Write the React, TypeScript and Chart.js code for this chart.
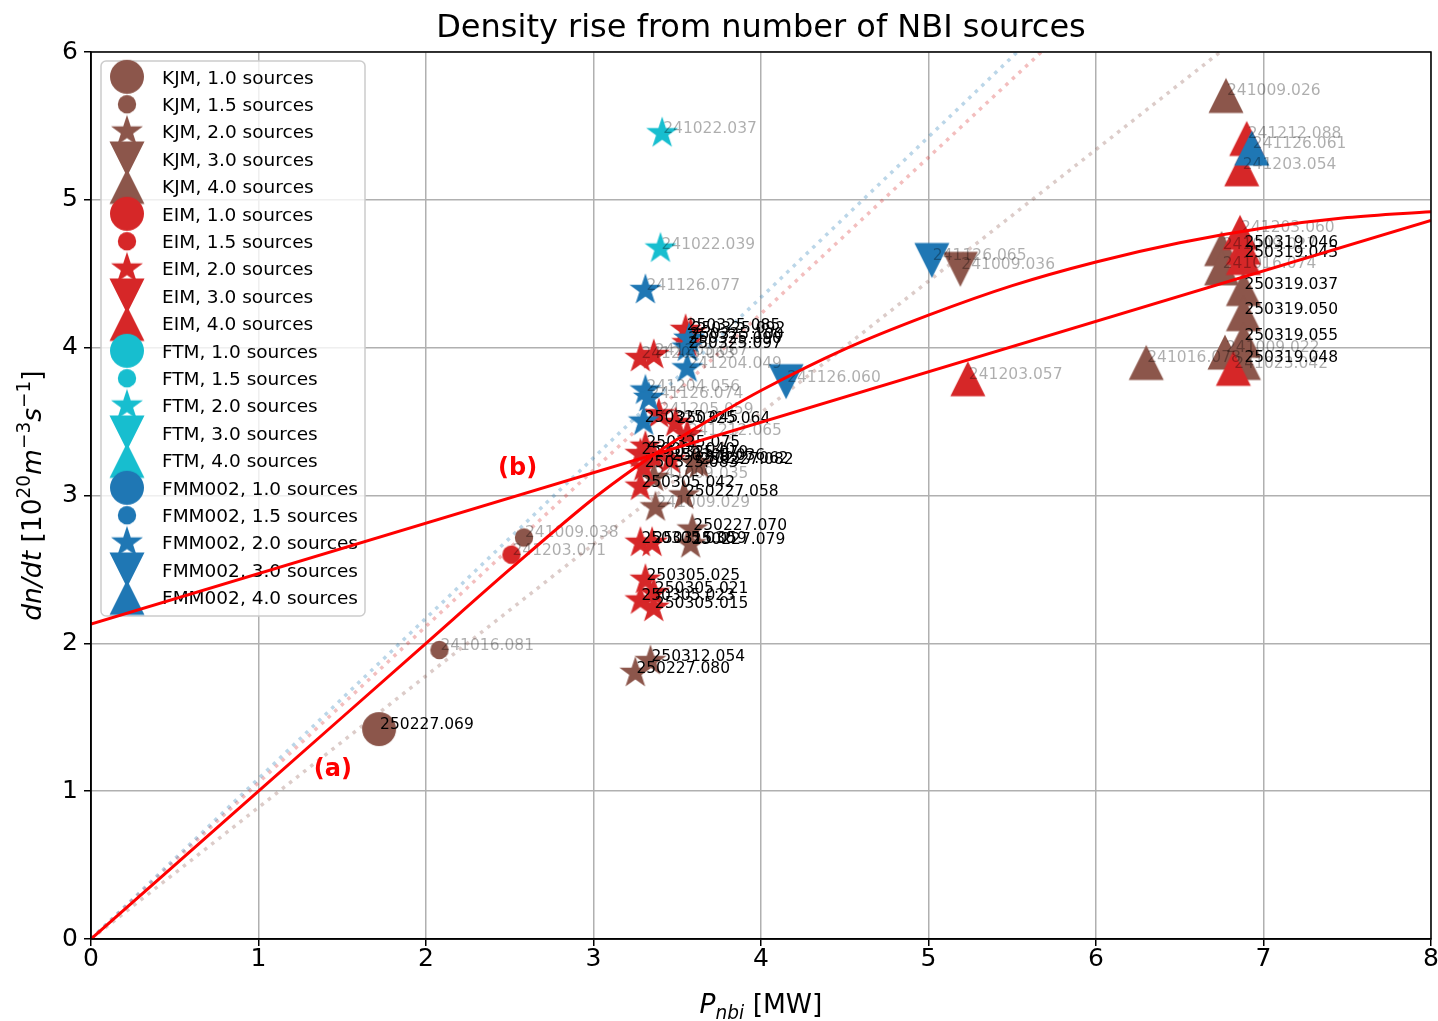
import { useEffect, useRef } from "react";
import { Chart, registerables } from "chart.js";

Chart.register(...registerables);

type Shot = [number, number, string];

// ---------- axis ranges ----------
const X_RANGE = [0, 8];
const Y_RANGE = [0, 6];

// ---------- KJM ----------
const KJM_1_0: Shot[] = [[1.72, 1.42, "250227.069"]];
const KJM_1_5: Shot[] = [
  [2.08, 1.955, "241016.081"],
  [2.585, 2.716, "241009.038"],
];
const KJM_2_0: Shot[] = [
  [3.25, 1.8, "250227.080"],
  [3.34, 1.88, "250312.054"],
  [3.58, 2.67, "250227.079"],
  [3.59, 2.77, "250227.070"],
  [3.37, 2.92, "241009.029"],
  [3.54, 3.0, "250227.058"],
  [3.36, 3.12, "241009.035"],
  [3.6, 3.22, "250227.062"],
  [3.63, 3.21, "250227.082"],
];
const KJM_3_0: Shot[] = [[5.19, 4.53, "241009.036"]];
const KJM_4_0: Shot[] = [
  [6.776, 5.706, "241009.026"],
  [6.3, 3.9, "241016.078"],
  [6.75, 4.67, "241009.027"],
  [6.75, 4.54, "241016.074"],
  [6.88, 4.4, "250319.037"],
  [6.88, 4.23, "250319.050"],
  [6.88, 4.05, "250319.055"],
  [6.77, 3.97, "241009.022"],
  [6.88, 3.9, "250319.048"],
];

// ---------- EIM ----------
const EIM_1_0: Shot[] = [];
const EIM_1_5: Shot[] = [[2.51, 2.6, "241203.071"]];
const EIM_2_0: Shot[] = [
  [3.28, 3.93, "241205.063"],
  [3.36, 3.95, "241205.067"],
  [3.55, 4.12, "250325.085"],
  [3.58, 4.1, "250325.092"],
  [3.56, 4.03, "250325.090"],
  [3.39, 3.55, "241205.059"],
  [3.49, 3.49, "250325.064"],
  [3.56, 3.41, "241212.065"],
  [3.31, 3.33, "250325.075"],
  [3.28, 3.28, "250305.040"],
  [3.36, 3.26, "250325.079"],
  [3.46, 3.24, "250305.036"],
  [3.3, 3.19, "250325.083"],
  [3.28, 3.06, "250305.042"],
  [3.28, 2.68, "250305.030"],
  [3.35, 2.68, "250315.059"],
  [3.31, 2.43, "250305.025"],
  [3.36, 2.34, "250305.021"],
  [3.28, 2.29, "250305.023"],
  [3.36, 2.24, "250305.015"],
];
const EIM_3_0: Shot[] = [];
const EIM_4_0: Shot[] = [
  [5.235, 3.79, "241203.057"],
  [6.9, 5.415, "241212.088"],
  [6.87, 5.21, "241203.054"],
  [6.86, 4.78, "241203.060"],
  [6.88, 4.68, "250319.046"],
  [6.88, 4.61, "250319.043"],
  [6.82, 3.86, "241023.042"],
];

// ---------- FTM ----------
const FTM_1_0: Shot[] = [];
const FTM_1_5: Shot[] = [];
const FTM_2_0: Shot[] = [
  [3.41, 5.45, "241022.037"],
  [3.4, 4.67, "241022.039"],
];
const FTM_3_0: Shot[] = [];
const FTM_4_0: Shot[] = [];

// ---------- FMM002 ----------
const FMM_1_0: Shot[] = [];
const FMM_1_5: Shot[] = [];
const FMM_2_0: Shot[] = [
  [3.31, 4.39, "241126.077"],
  [3.57, 4.06, "250325.100"],
  [3.56, 4.0, "250325.097"],
  [3.56, 3.86, "241204.049"],
  [3.31, 3.71, "241204.056"],
  [3.33, 3.66, "241126.074"],
  [3.3, 3.5, "250325.045"],
];
const FMM_3_0: Shot[] = [
  [5.02, 4.59, "241126.065"],
  [4.15, 3.77, "241126.060"],
];
const FMM_4_0: Shot[] = [[6.93, 5.35, "241126.061"]];

// ---------- categories ----------
const COMPANIES = ["KJM", "EIM", "FTM", "FMM002"];
const COMPANY_COLORS = ["#8c564b", "#d62728", "#17becf", "#1f77b4"];
const SOURCES = [1.0, 1.5, 2.0, 3.0, 4.0];
const SOURCE_SHAPES = ["bigCircle", "smallCircle", "star", "triDown", "triUp"];
const GROUPS: Shot[][][] = [
  [KJM_1_0, KJM_1_5, KJM_2_0, KJM_3_0, KJM_4_0],
  [EIM_1_0, EIM_1_5, EIM_2_0, EIM_3_0, EIM_4_0],
  [FTM_1_0, FTM_1_5, FTM_2_0, FTM_3_0, FTM_4_0],
  [FMM_1_0, FMM_1_5, FMM_2_0, FMM_3_0, FMM_4_0],
];

// ---------- fitted curves ----------
const FIT_A_X = [0, 1, 2, 2.5, 3, 3.25, 3.5, 3.75, 4, 4.5, 5, 5.5, 6, 6.5, 7, 7.5, 8];
const FIT_A_Y = [0, 1.0, 2.0, 2.5, 2.98, 3.19, 3.38, 3.55, 3.71, 3.99, 4.22, 4.42, 4.58, 4.71, 4.81, 4.88, 4.92];
const FIT_B_X = [0, 8];
const FIT_B_Y = [2.13, 4.86];
const DOT_X = [0, 8];
const DOT_FMM_Y = [0, 8.68];
const DOT_EIM_Y = [0, 8.46];
const DOT_KJM_Y = [0, 7.12];
const CURVE_TAGS: [number, number, string][] = [
  [1.33, 1.1, "(a)"],
  [2.43, 3.14, "(b)"],
];

const FONT = '"DejaVu Sans", "Liberation Sans", sans-serif';

function makeMarker(shape: string, color: string): HTMLCanvasElement {
  const size = shape === "smallCircle" ? 22 : 40;
  const c = document.createElement("canvas");
  c.width = size;
  c.height = size;
  const g = c.getContext("2d")!;
  const cx = size / 2;
  const cy = size / 2;
  g.fillStyle = color;
  g.beginPath();
  if (shape === "bigCircle") {
    g.arc(cx, cy, 17, 0, Math.PI * 2);
  } else if (shape === "smallCircle") {
    g.arc(cx, cy, 9.2, 0, Math.PI * 2);
  } else if (shape === "star") {
    const R = 16.8;
    for (let k = 0; k < 10; k++) {
      const r = k % 2 ? R * 0.381966 : R;
      const a = Math.PI / 2 + (k * Math.PI) / 5;
      const px = cx + r * Math.cos(a);
      const py = cy - r * Math.sin(a);
      if (k === 0) g.moveTo(px, py);
      else g.lineTo(px, py);
    }
  } else if (shape === "triUp") {
    const h = 17.5;
    g.moveTo(cx, cy - h);
    g.lineTo(cx - h, cy + h);
    g.lineTo(cx + h, cy + h);
  } else {
    const h = 17.5;
    g.moveTo(cx, cy + h);
    g.lineTo(cx - h, cy - h);
    g.lineTo(cx + h, cy - h);
  }
  g.closePath();
  g.fill();
  return c;
}

type Run = { t: string; it?: boolean; s?: number; dy?: number };

function drawRuns(ctx: CanvasRenderingContext2D, runs: Run[], cx: number, cy: number, rot: number, base: number) {
  ctx.save();
  ctx.translate(cx, cy);
  ctx.rotate(rot);
  const fontOf = (r: Run) => `${r.it ? "italic " : ""}${(r.s ?? 1) * base}px ${FONT}`;
  let total = 0;
  const widths = runs.map((r) => {
    ctx.font = fontOf(r);
    const w = ctx.measureText(r.t).width;
    total += w;
    return w;
  });
  let x = -total / 2;
  ctx.textAlign = "left";
  ctx.textBaseline = "alphabetic";
  ctx.fillStyle = "#000";
  runs.forEach((r, i) => {
    ctx.font = fontOf(r);
    ctx.fillText(r.t, x, (r.dy ?? 0) * base);
    x += widths[i];
  });
  ctx.restore();
}

function drawLegend(chart: any) {
  const ctx: CanvasRenderingContext2D = chart.ctx;
  const area = chart.chartArea;
  const x0 = area.left + 10;
  const y0 = area.top + 9;
  const w = 264;
  const h = 555;
  ctx.save();
  ctx.beginPath();
  (ctx as any).roundRect(x0, y0, w, h, 5);
  ctx.fillStyle = "rgba(255,255,255,0.8)";
  ctx.fill();
  ctx.strokeStyle = "#cccccc";
  ctx.lineWidth = 1.5;
  ctx.stroke();
  ctx.font = `18.5px ${FONT}`;
  ctx.fillStyle = "#000";
  ctx.textAlign = "left";
  ctx.textBaseline = "alphabetic";
  const markers = chart.data.datasets.filter((d: any) => d.isMarker);
  markers.forEach((d: any, i: number) => {
    const rowY = y0 + 15.8 + 27.4 * i;
    const img: HTMLCanvasElement = d.pointStyle;
    ctx.drawImage(img, x0 + 26 - img.width / 2, rowY - img.height / 2);
    ctx.fillText(d.label, x0 + 61, rowY + 6.8);
  });
  ctx.restore();
}

const overlayPlugin = {
  id: "overlay",
  afterDatasetDraw(chart: any, args: any) {
    const ds = chart.data.datasets[args.index];
    if (!ds.isLastMarker) return;
    const ctx: CanvasRenderingContext2D = chart.ctx;
    ctx.save();
    ctx.font = `15.5px ${FONT}`;
    ctx.textAlign = "left";
    ctx.textBaseline = "alphabetic";
    chart.data.datasets.forEach((d: any, di: number) => {
      if (!d.isMarker) return;
      const meta = chart.getDatasetMeta(di);
      d.shots.forEach((s: Shot, i: number) => {
        const el = meta.data[i];
        if (!el) return;
        ctx.fillStyle = s[2].startsWith("24") ? "rgba(0,0,0,0.32)" : "#000";
        ctx.fillText(s[2], el.x + 1, el.y);
      });
    });
    ctx.restore();
    drawLegend(chart);
  },
  afterDraw(chart: any) {
    const ctx: CanvasRenderingContext2D = chart.ctx;
    const a = chart.chartArea;
    const xs = chart.scales.x;
    const ys = chart.scales.y;
    ctx.save();
    // spines
    ctx.strokeStyle = "#000";
    ctx.lineWidth = 1.5;
    ctx.strokeRect(a.left, a.top, a.right - a.left, a.bottom - a.top);
    // curve tags
    ctx.font = `bold 24px ${FONT}`;
    ctx.fillStyle = "#ff0000";
    ctx.textAlign = "left";
    ctx.textBaseline = "alphabetic";
    CURVE_TAGS.forEach(([x, y, t]) => {
      ctx.fillText(t, xs.getPixelForValue(x), ys.getPixelForValue(y));
    });
    // title
    ctx.fillStyle = "#000";
    ctx.font = `32px ${FONT}`;
    ctx.textAlign = "center";
    ctx.fillText("Density rise from number of NBI sources", (a.left + a.right) / 2, 37);
    ctx.restore();
    // axis titles
    drawRuns(
      ctx,
      [{ t: "P", it: true }, { t: "nbi", it: true, s: 0.7, dy: 0.22 }, { t: " [MW]" }],
      (a.left + a.right) / 2,
      1013,
      0,
      26.5
    );
    drawRuns(
      ctx,
      [
        { t: "dn/dt", it: true },
        { t: " [" },
        { t: "10" },
        { t: "20", s: 0.7, dy: -0.42 },
        { t: "m", it: true },
        { t: "\u22123", s: 0.7, dy: -0.42 },
        { t: "s", it: true },
        { t: "\u22121", s: 0.7, dy: -0.42 },
        { t: "]" },
      ],
      41,
      (a.top + a.bottom) / 2,
      -Math.PI / 2,
      26.5
    );
  },
};

export default function App() {
  const ref = useRef<HTMLCanvasElement>(null);
  useEffect(() => {
    document.body.style.margin = "0";
    const datasets: any[] = [];
    const dotted = (label: string, ys: number[], color: string, order: number) => ({
      label,
      data: DOT_X.map((x, i) => ({ x, y: ys[i] })),
      showLine: true,
      borderColor: color,
      borderWidth: 3.5,
      borderDash: [3.5, 5.5],
      pointRadius: 0,
      order,
    });
    datasets.push(dotted("FMM002 fit", DOT_FMM_Y, "rgba(31,119,180,0.3)", 300));
    datasets.push(dotted("EIM fit", DOT_EIM_Y, "rgba(214,39,40,0.3)", 301));
    datasets.push(dotted("KJM fit", DOT_KJM_Y, "rgba(140,86,75,0.3)", 302));
    COMPANIES.forEach((co, ci) => {
      SOURCES.forEach((src, si) => {
        const shots = GROUPS[ci][si];
        const color = COMPANY_COLORS[ci];
        datasets.push({
          label: `${co}, ${src.toFixed(1)} sources`,
          data: shots.map((s) => ({ x: s[0], y: s[1] })),
          shots,
          isMarker: true,
          isLastMarker: ci === COMPANIES.length - 1 && si === SOURCES.length - 1,
          pointStyle: makeMarker(SOURCE_SHAPES[si], color),
          pointRadius: 17,
          pointHoverRadius: 17,
          backgroundColor: color,
          borderColor: color,
          showLine: false,
          order: 200 - (ci * 5 + si),
        });
      });
    });
    datasets.push({
      label: "(a)",
      data: FIT_A_X.map((x, i) => ({ x, y: FIT_A_Y[i] })),
      showLine: true,
      borderColor: "#ff0000",
      borderWidth: 3,
      pointRadius: 0,
      cubicInterpolationMode: "monotone",
      order: 1,
    });
    datasets.push({
      label: "(b)",
      data: FIT_B_X.map((x, i) => ({ x, y: FIT_B_Y[i] })),
      showLine: true,
      borderColor: "#ff0000",
      borderWidth: 3,
      pointRadius: 0,
      order: 0,
    });

    const tickFont = { family: FONT, size: 25 };
    const chart = new Chart(ref.current!, {
      type: "scatter",
      data: { datasets },
      plugins: [overlayPlugin],
      options: {
        animation: false,
        responsive: false,
        events: [],
        layout: { autoPadding: false, padding: { top: 52, right: 7, left: 0, bottom: 0 } },
        plugins: { legend: { display: false }, tooltip: { enabled: false }, title: { display: false } },
        scales: {
          x: {
            type: "linear",
            min: X_RANGE[0],
            max: X_RANGE[1],
            ticks: { stepSize: 1, font: tickFont, color: "#000", padding: -2 },
            grid: { color: "#b0b0b0", lineWidth: 1.5, tickColor: "#000", tickLength: 7, tickWidth: 1.5 },
            border: { display: true, color: "#000", width: 1.5 },
            afterFit: (s: any) => {
              s.height = 82;
              s.paddingLeft = 0;
              s.paddingRight = 0;
            },
          },
          y: {
            type: "linear",
            min: Y_RANGE[0],
            max: Y_RANGE[1],
            ticks: { stepSize: 1, font: tickFont, color: "#000", padding: 6 },
            grid: { color: "#b0b0b0", lineWidth: 1.5, tickColor: "#000", tickLength: 7, tickWidth: 1.5 },
            border: { display: true, color: "#000", width: 1.5 },
            afterFit: (s: any) => {
              s.width = 91;
              s.paddingTop = 0;
              s.paddingBottom = 0;
            },
          },
        },
      } as any,
    });
    return () => chart.destroy();
  }, []);
  return (
    <div style={{ position: "relative", width: 1438, height: 1021, background: "#fff" }}>
      <canvas ref={ref} width={1438} height={1021} style={{ display: "block", width: 1438, height: 1021 }} />
    </div>
  );
}
